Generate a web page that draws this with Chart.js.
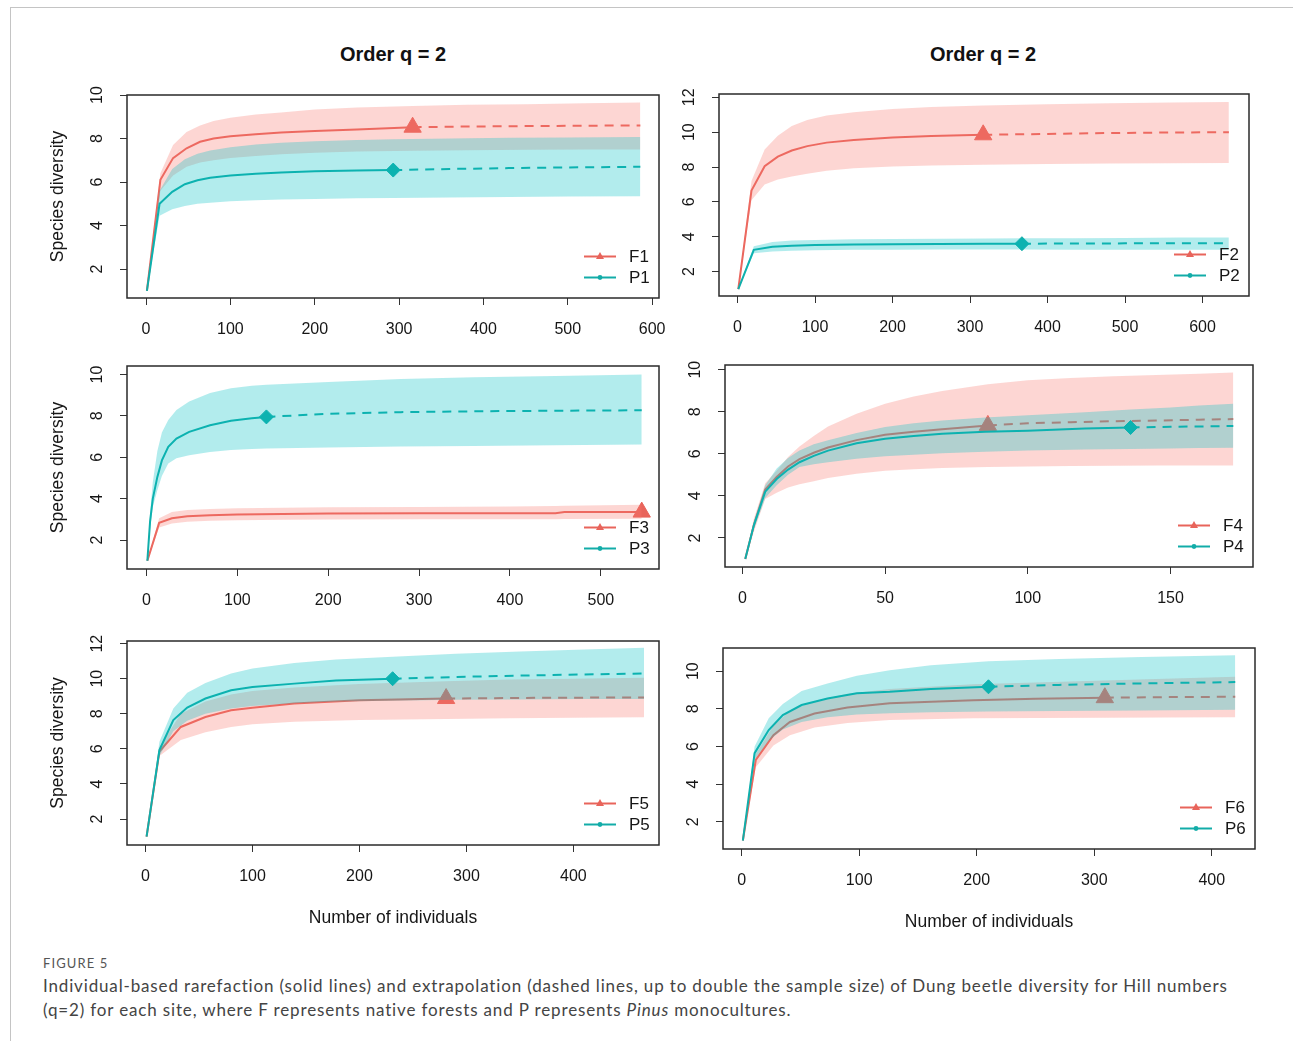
<!DOCTYPE html>
<html>
<head>
<meta charset="utf-8">
<script src="https://cdn.jsdelivr.net/npm/chart.js@4.4.1/dist/chart.umd.min.js"></script>
<style>
  body { margin: 0; background: #fff; width: 1293px; height: 1041px; position: relative; overflow: hidden; font-family: "Liberation Sans", Arial, sans-serif; }
  .frame { position: absolute; left: 10px; top: 7px; width: 1283px; height: 1034px; border-left: 1px solid #c4c4c4; border-top: 1px solid #c4c4c4; }
  .title { position: absolute; font: bold 20px "Liberation Sans", Arial, sans-serif; transform: translate(-50%, -50%); white-space: nowrap; color: #111; }
  canvas { position: absolute; }
  .figlabel { position: absolute; left: 43px; top: 955px; font: 13px Lato, "Open Sans", sans-serif; color: #555; letter-spacing: 1.1px; }
  .caption { position: absolute; left: 43px; top: 974px; font: 17px Lato, "Open Sans", sans-serif; line-height: 24px; color: #444; white-space: nowrap; letter-spacing: 0.85px; }
</style>
</head>
<body>
<div class="frame"></div>
<div class="title" style="left:393px; top:54px;">Order q = 2</div>
<div class="title" style="left:983px; top:54px;">Order q = 2</div>
<canvas id="c1"></canvas>
<canvas id="c2"></canvas>
<canvas id="c3"></canvas>
<canvas id="c4"></canvas>
<canvas id="c5"></canvas>
<canvas id="c6"></canvas>
<div class="figlabel">FIGURE 5</div>
<div class="caption">Individual-based rarefaction (solid lines) and extrapolation (dashed lines, up to double the sample size) of Dung beetle diversity for Hill numbers<br>(q=2) for each site, where F represents native forests and P represents <i>Pinus</i> monocultures.</div>
<script>
// site names per panel
const siteNames = [['F1', 'P1'], ['F2', 'P2'], ['F3', 'P3'], ['F4', 'P4'], ['F5', 'P5'], ['F6', 'P6']]

// tick labels
const xTicks1 = [0, 100, 200, 300, 400, 500, 600]
const yTicks1 = [2, 4, 6, 8, 10]
const xTicks2 = [0, 100, 200, 300, 400, 500, 600]
const yTicks2 = [2, 4, 6, 8, 10, 12]
const xTicks3 = [0, 100, 200, 300, 400, 500]
const yTicks3 = [2, 4, 6, 8, 10]
const xTicks4 = [0, 50, 100, 150]
const yTicks4 = [2, 4, 6, 8, 10]
const xTicks5 = [0, 100, 200, 300, 400]
const yTicks5 = [2, 4, 6, 8, 10, 12]
const xTicks6 = [0, 100, 200, 300, 400]
const yTicks6 = [2, 4, 6, 8, 10]

// number of individuals (N), diversity estimate (D), 95% band (Lo/Hi), reference sample size (Obs)
const f1N  = [1, 17, 32, 48, 64, 80, 100, 130, 160, 200, 250, 316, 380, 450, 520, 586]
const f1D  = [1, 6.1, 7.1, 7.55, 7.85, 8.0, 8.1, 8.2, 8.28, 8.35, 8.42, 8.52, 8.55, 8.57, 8.59, 8.6]
const f1Lo = [1, 5.6, 6.3, 6.7, 6.9, 7.0, 7.1, 7.2, 7.28, 7.35, 7.4, 7.44, 7.46, 7.48, 7.49, 7.5]
const f1Hi = [1, 6.4, 7.7, 8.3, 8.6, 8.8, 8.95, 9.1, 9.2, 9.33, 9.42, 9.5, 9.55, 9.58, 9.62, 9.65]
const f1Obs = 316
const p1N  = [1, 16, 31, 46, 61, 76, 100, 130, 160, 200, 250, 293, 360, 430, 500, 586]
const p1D  = [1, 5.0, 5.55, 5.9, 6.08, 6.2, 6.3, 6.38, 6.44, 6.49, 6.53, 6.55, 6.6, 6.64, 6.67, 6.7]
const p1Lo = [1, 4.45, 4.75, 4.9, 5.0, 5.05, 5.12, 5.16, 5.2, 5.22, 5.25, 5.27, 5.29, 5.31, 5.33, 5.35]
const p1Hi = [1, 5.6, 6.6, 7.05, 7.3, 7.45, 7.6, 7.72, 7.8, 7.87, 7.93, 7.97, 8.0, 8.03, 8.05, 8.07]
const p1Obs = 293

const f2N  = [1, 18, 35, 52, 70, 90, 115, 150, 200, 250, 317, 400, 480, 560, 634]
const f2D  = [1, 6.65, 8.05, 8.6, 8.95, 9.2, 9.4, 9.55, 9.7, 9.78, 9.85, 9.9, 9.95, 9.98, 10.0]
const f2Lo = [1, 6.1, 7.0, 7.28, 7.45, 7.62, 7.78, 7.93, 8.03, 8.09, 8.13, 8.17, 8.2, 8.22, 8.23]
const f2Hi = [1, 7.2, 9.0, 9.8, 10.35, 10.7, 10.95, 11.15, 11.33, 11.45, 11.53, 11.6, 11.66, 11.7, 11.73]
const f2Obs = 317
const p2N  = [1, 21, 45, 70, 100, 150, 200, 260, 320, 367, 430, 500, 570, 634]
const p2D  = [1, 3.25, 3.42, 3.48, 3.52, 3.55, 3.57, 3.59, 3.6, 3.6, 3.61, 3.62, 3.62, 3.63]
const p2Lo = [1, 3.05, 3.15, 3.2, 3.23, 3.25, 3.26, 3.27, 3.27, 3.27, 3.26, 3.26, 3.25, 3.25]
const p2Hi = [1, 3.45, 3.7, 3.78, 3.82, 3.85, 3.87, 3.88, 3.9, 3.91, 3.92, 3.93, 3.95, 3.96]
const p2Obs = 367

const f3N  = [1, 14, 28, 45, 70, 100, 150, 200, 300, 400, 450, 460, 545]
const f3D  = [1, 2.83, 3.05, 3.15, 3.2, 3.23, 3.26, 3.28, 3.3, 3.3, 3.3, 3.35, 3.35]
const f3Lo = [1, 2.6, 2.8, 2.88, 2.93, 2.96, 2.98, 2.99, 3.0, 3.0, 3.0, 3.02, 3.03]
const f3Hi = [1, 3.05, 3.35, 3.45, 3.5, 3.53, 3.56, 3.58, 3.6, 3.62, 3.64, 3.66, 3.7]
const f3Obs = 545
const p3N  = [1, 4, 7, 12, 17, 24, 33, 47, 70, 93, 116, 132, 200, 280, 360, 450, 545]
const p3D  = [1, 2.9, 4.0, 5.05, 5.85, 6.5, 6.9, 7.23, 7.55, 7.76, 7.88, 7.95, 8.1, 8.18, 8.22, 8.25, 8.27]
const p3Lo = [1, 2.5, 3.6, 4.4, 5.1, 5.7, 5.95, 6.1, 6.26, 6.35, 6.4, 6.42, 6.47, 6.52, 6.55, 6.58, 6.62]
const p3Hi = [1, 3.3, 4.8, 6.3, 7.2, 7.8, 8.28, 8.7, 9.1, 9.33, 9.45, 9.5, 9.64, 9.78, 9.87, 9.93, 10.0]
const p3Obs = 132

const f4N  = [1, 4, 8, 12, 16, 20, 25, 30, 40, 50, 60, 70, 86, 100, 115, 130, 145, 160, 172]
const f4D  = [1, 2.6, 4.3, 4.9, 5.4, 5.75, 6.05, 6.3, 6.65, 6.9, 7.05, 7.17, 7.35, 7.45, 7.5, 7.55, 7.58, 7.62, 7.65]
const f4Lo = [1, 2.3, 3.85, 4.15, 4.4, 4.55, 4.7, 4.85, 5.05, 5.2, 5.27, 5.32, 5.37, 5.4, 5.42, 5.43, 5.44, 5.44, 5.44]
const f4Hi = [1, 2.9, 4.6, 5.2, 5.85, 6.35, 6.85, 7.3, 7.9, 8.38, 8.72, 8.98, 9.3, 9.5, 9.6, 9.68, 9.75, 9.8, 9.86]
const f4Obs = 86
const p4N  = [1, 4, 8, 12, 16, 20, 25, 30, 40, 50, 60, 70, 85, 100, 120, 136, 150, 160, 172]
const p4D  = [1, 2.6, 4.2, 4.8, 5.25, 5.6, 5.9, 6.15, 6.5, 6.72, 6.85, 6.95, 7.05, 7.1, 7.2, 7.25, 7.28, 7.3, 7.32]
const p4Lo = [1, 2.4, 3.9, 4.5, 5.0, 5.37, 5.5, 5.6, 5.77, 5.88, 5.96, 6.03, 6.1, 6.16, 6.2, 6.23, 6.25, 6.27, 6.29]
const p4Hi = [1, 2.8, 4.5, 5.3, 5.8, 6.16, 6.45, 6.64, 6.99, 7.27, 7.45, 7.58, 7.72, 7.83, 7.98, 8.1, 8.2, 8.3, 8.38]
const p4Obs = 136

const f5N  = [1, 13, 33, 56, 80, 100, 139, 200, 281, 340, 400, 466]
const f5D  = [1, 5.85, 7.25, 7.82, 8.2, 8.35, 8.58, 8.77, 8.87, 8.9, 8.92, 8.93]
const f5Lo = [1, 5.6, 6.5, 6.95, 7.25, 7.4, 7.55, 7.65, 7.7, 7.75, 7.78, 7.8]
const f5Hi = [1, 6.1, 8.0, 8.7, 9.1, 9.3, 9.5, 9.7, 9.85, 9.95, 10.0, 10.05]
const f5Obs = 281
const p5N  = [1, 13, 26, 39, 56, 80, 100, 139, 178, 231, 290, 350, 410, 466]
const p5D  = [1, 5.93, 7.64, 8.36, 8.87, 9.34, 9.53, 9.72, 9.9, 10.0, 10.1, 10.18, 10.24, 10.3]
const p5Lo = [1, 5.6, 7.0, 7.6, 8.0, 8.3, 8.45, 8.6, 8.7, 8.75, 8.8, 8.82, 8.84, 8.85]
const p5Hi = [1, 6.4, 8.3, 9.2, 9.75, 10.3, 10.58, 10.9, 11.1, 11.25, 11.42, 11.55, 11.67, 11.77]
const p5Obs = 231

const f6N  = [1, 12, 27, 41, 62, 90, 126, 197, 250, 309, 360, 420]
const f6D  = [1, 5.28, 6.6, 7.3, 7.75, 8.07, 8.29, 8.46, 8.53, 8.59, 8.62, 8.64]
const f6Lo = [1, 4.9, 6.05, 6.6, 7.0, 7.25, 7.4, 7.5, 7.51, 7.52, 7.54, 7.55]
const f6Hi = [1, 5.6, 7.1, 7.9, 8.4, 8.8, 9.05, 9.3, 9.4, 9.5, 9.6, 9.7]
const f6Obs = 309
const p6N  = [1, 11, 23, 35, 51, 73, 98, 126, 161, 210, 270, 340, 420]
const p6D  = [1, 5.64, 6.87, 7.67, 8.2, 8.55, 8.82, 8.9, 9.05, 9.17, 9.27, 9.35, 9.42]
const p6Lo = [1, 5.3, 6.3, 6.9, 7.3, 7.55, 7.7, 7.76, 7.82, 7.85, 7.88, 7.91, 7.95]
const p6Hi = [1, 6.0, 7.5, 8.25, 8.95, 9.35, 9.75, 10.05, 10.32, 10.52, 10.64, 10.75, 10.85]
const p6Obs = 210

const RED = '#E8645B'
const TEAL = '#12ACA8'
const RED_BAND = 'rgba(248,118,109,0.3)'
const TEAL_BAND = 'rgba(0,191,196,0.3)'
const FAMILY = '"Liberation Sans", Arial, sans-serif'
const TXT = '#161616'

// layout of each panel: plot box [left, top, right, bottom] in page px, axis ranges
const panels = [
  { id: 'c1', box: [127, 95, 659, 298], xr: [-22.6, 608.1], yr: [0.67, 10.0], xt: xTicks1, yt: yTicks1, yTitle: true, xTitle: false,
    f: [f1N, f1D, f1Lo, f1Hi, f1Obs], p: [p1N, p1D, p1Lo, p1Hi, p1Obs], names: siteNames[0] },
  { id: 'c2', box: [719, 94, 1249, 296], xr: [-23.9, 660], yr: [0.6, 12.19], xt: xTicks2, yt: yTicks2, yTitle: false, xTitle: false,
    f: [f2N, f2D, f2Lo, f2Hi, f2Obs], p: [p2N, p2D, p2Lo, p2Hi, p2Obs], names: siteNames[1] },
  { id: 'c3', box: [127, 366, 659, 569], xr: [-21.4, 564], yr: [0.6, 10.41], xt: xTicks3, yt: yTicks3, yTitle: true, xTitle: false,
    f: [f3N, f3D, f3Lo, f3Hi, f3Obs], p: [p3N, p3D, p3Lo, p3Hi, p3Obs], names: siteNames[2] },
  { id: 'c4', box: [725, 365, 1253, 567], xr: [-6.1, 178.9], yr: [0.62, 10.22], xt: xTicks4, yt: yTicks4, yTitle: false, xTitle: false,
    f: [f4N, f4D, f4Lo, f4Hi, f4Obs], p: [p4N, p4D, p4Lo, p4Hi, p4Obs], names: siteNames[3] },
  { id: 'c5', box: [127, 641, 659, 845], xr: [-17.3, 480], yr: [0.52, 12.15], xt: xTicks5, yt: yTicks5, yTitle: true, xTitle: true,
    f: [f5N, f5D, f5Lo, f5Hi, f5Obs], p: [p5N, p5D, p5Lo, p5Hi, p5Obs], names: siteNames[4] },
  { id: 'c6', box: [723, 648, 1255, 849], xr: [-15.9, 436.8], yr: [0.55, 11.23], xt: xTicks6, yt: yTicks6, yTitle: false, xTitle: true,
    f: [f6N, f6D, f6Lo, f6Hi, f6Obs], p: [p6N, p6D, p6Lo, p6Hi, p6Obs], names: siteNames[5] }
]

const Y_W = 100, PAD_T = 12, PAD_R = 14

function pts(n, v, from, to) {
  const out = []
  for (let i = 0; i < n.length; i++) {
    if (n[i] >= from && n[i] <= to) out.push({ x: n[i], y: v[i] })
  }
  return out
}

// F drawn first (higher order), then P on top, each band after its own lines like plot.iNEXT
function siteSets(site, color, band, marker, base) {
  const [n, d, lo, hi, obs] = site
  const end = n[n.length - 1]
  const k = n.indexOf(obs)
  const sets = [{ data: pts(n, d, 0, obs), borderColor: color, borderWidth: 2, order: base + 4 }]
  if (end > obs) {
    sets.push({ data: pts(n, d, obs, end), borderColor: color, borderWidth: 2, borderDash: [9, 7], order: base + 3 })
  }
  sets.push({
    data: [{ x: obs, y: d[k] }], showLine: false, pointStyle: marker,
    pointRadius: marker === 'triangle' ? 10 : 7, pointBackgroundColor: color, pointBorderColor: color, pointBorderWidth: 1,
    order: base + 2
  })
  sets.push({ data: pts(n, lo, 0, end), borderWidth: 0, borderColor: 'transparent', fill: false, order: base + 1 })
  sets.push({ data: pts(n, hi, 0, end), borderWidth: 0, borderColor: 'transparent', backgroundColor: band, fill: '-1', order: base })
  return sets
}

const boxPlugin = {
  id: 'plotBox',
  afterDatasetsDraw(chart) {
    const { ctx, chartArea: a } = chart
    ctx.save()
    ctx.strokeStyle = '#2a2a2a'
    ctx.lineWidth = 1.5
    ctx.strokeRect(a.left, a.top, a.right - a.left, a.bottom - a.top)
    ctx.restore()
  }
}

const legendPlugin = {
  id: 'siteLegend',
  afterDraw(chart, args, opts) {
    const { ctx, chartArea: a } = chart
    const rows = [[opts.names[0], RED, 'tri', a.bottom - 41.5], [opts.names[1], TEAL, 'dot', a.bottom - 20.5]]
    ctx.save()
    ctx.font = '17px ' + FAMILY
    ctx.textBaseline = 'middle'
    rows.forEach(([txt, col, m, y]) => {
      ctx.strokeStyle = col
      ctx.lineWidth = 2
      ctx.beginPath()
      ctx.moveTo(a.right - 75, y)
      ctx.lineTo(a.right - 43, y)
      ctx.stroke()
      const cx = a.right - 59
      ctx.fillStyle = col
      ctx.beginPath()
      if (m === 'tri') {
        ctx.moveTo(cx, y - 4.5); ctx.lineTo(cx + 4, y + 2.5); ctx.lineTo(cx - 4, y + 2.5); ctx.closePath()
      } else {
        ctx.arc(cx, y, 2.4, 0, Math.PI * 2)
      }
      ctx.fill()
      ctx.fillStyle = TXT
      ctx.fillText(txt, a.right - 30, y + 1)
    })
    ctx.restore()
  }
}

function noPad(s) { s.paddingTop = 0; s.paddingBottom = 0; s.paddingLeft = 0; s.paddingRight = 0 }

panels.forEach(p => {
  const [L, T, R, B] = p.box
  const xH = p.xTitle ? 100 : 60
  const cv = document.getElementById(p.id)
  const w = R - L + Y_W + PAD_R
  const h = B - T + PAD_T + xH
  cv.width = w; cv.height = h
  cv.style.width = w + 'px'; cv.style.height = h + 'px'
  cv.style.left = (L - Y_W) + 'px'; cv.style.top = (T - PAD_T) + 'px'

  const datasets = siteSets(p.f, RED, RED_BAND, 'triangle', 10).concat(siteSets(p.p, TEAL, TEAL_BAND, 'rectRot', 0))

  new Chart(cv, {
    type: 'line',
    data: { datasets },
    options: {
      responsive: false,
      animation: false,
      events: [],
      layout: { padding: { top: PAD_T, right: PAD_R, left: 0, bottom: 0 } },
      elements: { point: { radius: 0 }, line: { tension: 0 } },
      plugins: {
        legend: { display: false },
        tooltip: { enabled: false },
        filler: { drawTime: 'beforeDatasetDraw' },
        siteLegend: { names: p.names }
      },
      scales: {
        x: {
          type: 'linear', min: p.xr[0], max: p.xr[1],
          afterBuildTicks: s => { s.ticks = p.xt.map(v => ({ value: v })) },
          afterFit: s => { s.height = xH; noPad(s) },
          grid: { drawOnChartArea: false, drawTicks: true, tickLength: 7, color: '#333', lineWidth: 1 },
          border: { display: false },
          ticks: { autoSkip: false, maxRotation: 0, padding: 15, color: TXT, font: { family: FAMILY, size: 16 }, callback: v => String(v) },
          title: { display: p.xTitle, text: 'Number of individuals', color: TXT, font: { family: FAMILY, size: 17.5 }, padding: { top: 0, bottom: 16 } }
        },
        y: {
          type: 'linear', min: p.yr[0], max: p.yr[1],
          afterBuildTicks: s => { s.ticks = p.yt.map(v => ({ value: v })) },
          afterFit: s => { s.width = Y_W; noPad(s) },
          grid: { drawOnChartArea: false, drawTicks: true, tickLength: 7, color: '#333', lineWidth: 1 },
          border: { display: false },
          ticks: { minRotation: 90, maxRotation: 90, crossAlign: 'center', padding: 14, color: TXT, font: { family: FAMILY, size: 16 }, callback: v => String(v) },
          title: { display: p.yTitle, text: 'Species diversity', color: TXT, font: { family: FAMILY, size: 17.5 }, padding: { top: 20.5, bottom: 0 } }
        }
      }
    },
    plugins: [boxPlugin, legendPlugin]
  })
})
</script>
</body>
</html>
